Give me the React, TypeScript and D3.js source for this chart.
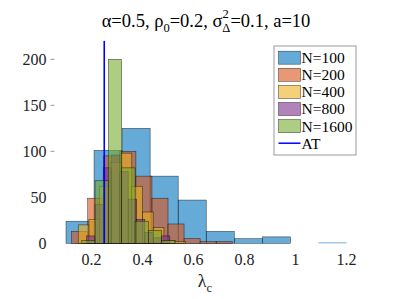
import * as d3 from "d3";

// histogram bins (edges in λc, counts per bin)
const edges100 = [0.1, 0.21, 0.32, 0.43, 0.54, 0.65, 0.76, 0.87, 0.98, 1.09, 1.2];
const counts100 = [24, 101, 125, 73, 47, 13, 5, 7, 0, 1];

const edges200 = [0.122, 0.185, 0.248, 0.311, 0.374, 0.437, 0.5, 0.563, 0.626, 0.689, 0.752];
const counts200 = [13, 49, 95, 100, 73, 49, 21, 5, 2, 2];

const edges400 = [0.148, 0.19, 0.232, 0.274, 0.316, 0.358, 0.4, 0.442, 0.484, 0.526, 0.568];
const counts400 = [20, 26, 62, 88, 98, 62, 34, 17, 3, 2];

const edges800 = [0.181, 0.214, 0.246, 0.279, 0.311, 0.344, 0.377, 0.409, 0.442, 0.474, 0.507];
const counts800 = [8, 42, 82, 96, 78, 48, 26, 12, 6, 8];

const edges1600 = [0.162, 0.214, 0.266, 0.318, 0.371, 0.423, 0.475, 0.528];
const counts1600 = [3, 68, 200, 82, 24, 14, 3];

const seriesNames = ["N=100", "N=200", "N=400", "N=800", "N=1600"];
const seriesColors = ["#0072BD", "#D95319", "#EDB120", "#7E2F8E", "#77AC30"];
const atValue = 0.25;

const xTicks = [0.2, 0.4, 0.6, 0.8, 1, 1.2];
const yTicks = [0, 50, 100, 150, 200];

export default function App() {
  const width = 399;
  const height = 299;

  const x = d3.scaleLinear().domain([0, 1.2]).range([40.5, 346.5]);
  const y = d3.scaleLinear().domain([0, 200]).range([243.3, 59.3]);

  const series = [
    { edges: edges100, counts: counts100 },
    { edges: edges200, counts: counts200 },
    { edges: edges400, counts: counts400 },
    { edges: edges800, counts: counts800 },
    { edges: edges1600, counts: counts1600 },
  ];

  const legendX = 274;
  const legendY = 46;
  const rowH = 17.1;

  return (
    <svg
      width={width}
      height={height}
      style={{ position: "absolute", left: 0, top: 0, background: "#fff" }}
    >
      <style>{`.serif { font-family: "Liberation Serif"; }`}</style>

      {/* title */}
      <text className="serif" x={206} y={26.5} textAnchor="middle" fontSize={18.5} fill="#000">
        <tspan>α=0.5, ρ</tspan>
        <tspan fontSize={12.5} dy={5}>0</tspan>
        <tspan dy={-5}>=0.2, σ</tspan>
        <tspan fontSize={12.5} dy={-9}>2</tspan>
        <tspan fontSize={12.5} dx={-6.3} dy={14}>Δ</tspan>
        <tspan dy={-5}>=0.1, a=10</tspan>
      </text>

      {/* histograms */}
      {series.map((s, si) => (
        <g key={si}>
          {s.counts.map((c, i) =>
            c > 0 ? (
              <rect
                key={i}
                x={x(s.edges[i])}
                y={y(c)}
                width={x(s.edges[i + 1]) - x(s.edges[i])}
                height={y(0) - y(c)}
                fill={seriesColors[si]}
                fillOpacity={0.6}
                stroke="#000"
                strokeOpacity={c > 1 ? 0.65 : 0}
                strokeWidth={0.6}
              />
            ) : null
          )}
        </g>
      ))}

      {/* AT line */}
      <line
        x1={x(atValue)}
        x2={x(atValue)}
        y1={y(220)}
        y2={y(0)}
        stroke="#0000FF"
        strokeWidth={1.6}
      />

      {/* y axis labels */}
      {yTicks.map((t) => (
        <g key={t}>
          <text className="serif" x={46.5} y={y(t)} dy="0.35em" textAnchor="end" fontSize={16} fill="#222">
            {t}
          </text>
          {t >= 100 && (
            <line x1={50.5} x2={54.5} y1={y(t)} y2={y(t)} stroke="#999" strokeWidth={1} />
          )}
        </g>
      ))}

      {/* x axis labels */}
      {xTicks.map((t) => (
        <text className="serif" key={t} x={x(t)} y={265} textAnchor="middle" fontSize={16} fill="#222">
          {t}
        </text>
      ))}
      <text className="serif" x={205} y={287} textAnchor="middle" fontSize={18} fill="#222">
        <tspan>λ</tspan>
        <tspan fontSize={12.5} dy={5}>c</tspan>
      </text>

      {/* legend */}
      <rect
        x={legendX}
        y={legendY}
        width={82}
        height={109}
        fill="#fff"
        stroke="#999"
        strokeWidth={1}
      />
      {seriesNames.map((n, i) => {
        const cy = legendY + 11.7 + i * rowH;
        return (
          <g key={n}>
            <rect
              x={legendX + 4.5}
              y={cy - 6.5}
              width={22}
              height={13}
              fill={seriesColors[i]}
              fillOpacity={0.6}
              stroke="#000"
              strokeOpacity={0.65}
              strokeWidth={0.6}
            />
            <text className="serif" x={legendX + 27.5} y={cy} dy="0.35em" fontSize={15.5} fill="#000">
              {n}
            </text>
          </g>
        );
      })}
      <line
        x1={legendX + 4.5}
        x2={legendX + 26.5}
        y1={legendY + 11.7 + 5 * rowH}
        y2={legendY + 11.7 + 5 * rowH}
        stroke="#0000FF"
        strokeWidth={1.5}
      />
      <text
        className="serif"
        x={legendX + 27.5}
        y={legendY + 11.7 + 5 * rowH}
        dy="0.35em"
        fontSize={15.5}
        fill="#000"
      >
        AT
      </text>
    </svg>
  );
}
